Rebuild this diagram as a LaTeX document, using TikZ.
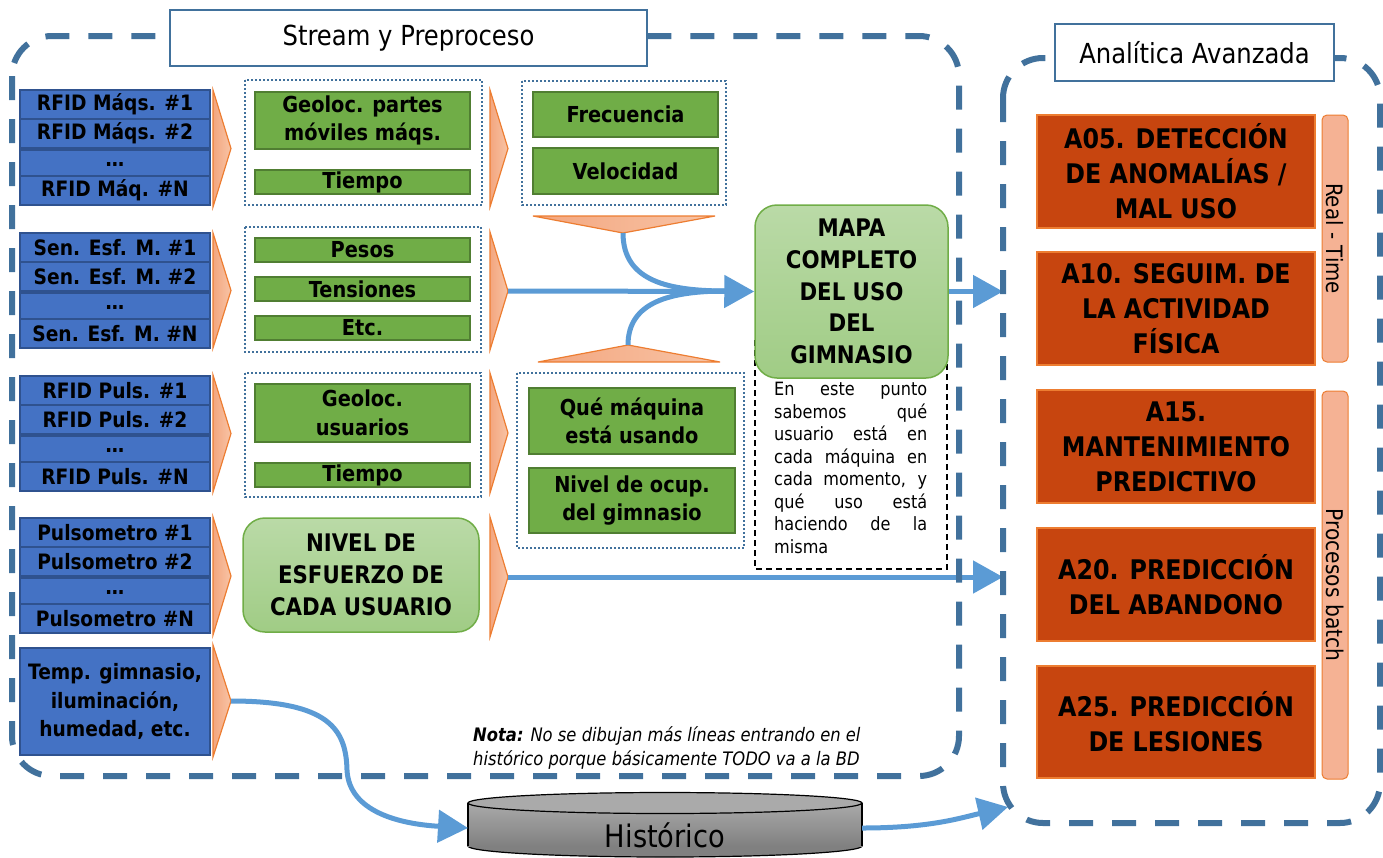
\documentclass[tikz,border=0pt]{standalone}
\usepackage{fontspec}
\setmainfont{DejaVu Sans}[FakeStretch=0.88]
\usetikzlibrary{arrows.meta}

\definecolor{frame}{HTML}{41719C}
\definecolor{sensorblue}{HTML}{4472C4}
\definecolor{sensoredge}{HTML}{2F528F}
\definecolor{leaf}{HTML}{70AD47}
\definecolor{leafedge}{HTML}{507E32}
\definecolor{mintA}{RGB}{186,218,167}
\definecolor{mintB}{RGB}{160,204,133}
\definecolor{chevA}{RGB}{243,166,127}
\definecolor{chevB}{RGB}{248,196,166}
\definecolor{chevedge}{HTML}{ED7D31}
\definecolor{flow}{HTML}{5B9BD5}
\definecolor{rust}{RGB}{199,69,15}
\definecolor{barfill}{RGB}{245,178,148}
\definecolor{dbA}{RGB}{170,170,170}
\definecolor{dbB}{RGB}{128,128,128}

\newcommand\sensorfont{\bfseries\fontsize{21.2}{24}\selectfont}
\newcommand\leaffont{\bfseries\fontsize{22}{28.5}\selectfont}
\newcommand\softfont{\bfseries\fontsize{24.2}{31.7}\selectfont}
\newcommand\taskfont{\bfseries\fontsize{27}{35}\selectfont}

% four stacked sensor rows: prefix, top y, first, second, last label
\newcommand\sensorrows[5]{%
  \node[sensor] (#1a) at (115,#2+14.375) {#3};
  \node[sensor] (#1b) at (115,#2+43.125) {#4};
  \node[sensor] (#1c) at (115,#2+74) {…};
  \node[sensor] (#1d) at (115,#2+100.625) {#5};}

% right-pointing chevron: left x, top y, bottom y
\newcommand\chevron[3]{%
  \path[chev] (#1,#2) -- (#1+18,{(#2+#3)/2}) -- (#1,#3) -- cycle;}

\begin{document}
\begin{tikzpicture}[x=1pt,y=-1pt,
  panel/.style={draw=frame, line width=6, dash pattern=on 24pt off 19pt, rounded corners=40},
  titlebox/.style={draw=frame, line width=2.5, fill=white, inner sep=0,
    font=\fontsize{27.6}{30}\selectfont},
  sensor/.style={draw=sensoredge, fill=sensorblue, line width=2, inner sep=0,
    minimum width=190, minimum height=28.75, font=\sensorfont},
  group/.style={draw=frame, line width=2, dash pattern=on 2pt off 2pt},
  leafbox/.style={draw=leafedge, fill=leaf, line width=2, inner sep=0, align=center,
    font=\leaffont},
  softbox/.style={draw=leaf, line width=1.5, rounded corners=22, top color=mintA,
    bottom color=mintB, inner sep=0, align=center, font=\softfont},
  chev/.style={left color=chevA, right color=chevB, draw=chevedge, line width=1.2},
  flowline/.style={draw=flow, line width=5},
  flowarrow/.style={flowline, -{Triangle[length=30pt,width=32pt]}},
  task/.style={fill=rust, draw=chevedge, line width=1.5, inner sep=0,
    minimum width=278, minimum height=113, align=center, font=\taskfont},
  modebar/.style={fill=barfill, draw=chevedge, line width=1, rounded corners=5},
  notebox/.style={draw=black, line width=1.5, dash pattern=on 6pt off 4pt}]

\useasboundingbox (0,0) rectangle (1383,857);

% panel outlines (placed now, stroked later so they cross over the flows)
\path (485.5,406) node[minimum width=947, minimum height=740, inner sep=0, outer sep=0] (stream) {};
\path (1191.5,440.5) node[minimum width=377, minimum height=765, inner sep=0, outer sep=0] (ana) {};

% ---------- sensor sources ----------
\sensorrows{rm}{90}{RFID Máqs. \#1}{RFID Máqs. \#2}{RFID Máq. \#N}
\sensorrows{se}{233}{Sen. Esf. M. \#1}{Sen. Esf. M. \#2}{Sen. Esf. M. \#N}
\sensorrows{rp}{376}{RFID Puls. \#1}{RFID Puls. \#2}{RFID Puls. \#N}
\sensorrows{pu}{518}{Pulsometro \#1}{Pulsometro \#2}{Pulsometro \#N}
\node[sensor, minimum height=107, align=center, font=\bfseries\fontsize{21.2}{28.5}\selectfont]
  (env) at (115,701.5) {Temp. gimnasio,\\iluminación,\\humedad, etc.};

\chevron{213}{90}{207}
\chevron{213}{233}{348}
\chevron{213}{375}{492}
\chevron{213}{517}{635}
\chevron{213}{645}{757}

% ---------- first preprocessing stage ----------
\draw[group] (245,80) rectangle (482,205);
\draw[group] (245,227) rectangle (481,352);
\draw[group] (245,373) rectangle (481,497);

\node[leafbox, minimum width=215, minimum height=57] (geomaq) at (362.5,120.5) {Geoloc. partes\\móviles máqs.};
\node[leafbox, minimum width=215, minimum height=24] (tmaq) at (362.5,182) {Tiempo};
\node[leafbox, minimum width=215, minimum height=24] (pesos) at (362.5,250) {Pesos};
\node[leafbox, minimum width=215, minimum height=24] (tens) at (362.5,289) {Tensiones};
\node[leafbox, minimum width=215, minimum height=24] (etc) at (362.5,328) {Etc.};
\node[leafbox, minimum width=215, minimum height=58] (geousr) at (362.5,413) {Geoloc.\\usuarios};
\node[leafbox, minimum width=215, minimum height=24] (tusr) at (362.5,475) {Tiempo};

\node[softbox, minimum width=236, minimum height=114] (esfuerzo) at (361,575) {NIVEL DE\\ESFUERZO DE\\CADA USUARIO};

\chevron{490}{90}{207}
\chevron{490}{232}{350}
\chevron{490}{373}{493}
\chevron{490}{517}{637}

% ---------- second preprocessing stage ----------
\draw[group] (522,81) rectangle (726,205);
\draw[group] (517,373) rectangle (744,548);

\node[leafbox, minimum width=185, minimum height=45] (frec) at (625.5,114.5) {Frecuencia};
\node[leafbox, minimum width=185, minimum height=46] (vel) at (625.5,171) {Velocidad};
\node[leafbox, minimum width=206, minimum height=66] (quemaq) at (632,421) {Qué máquina\\está usando};
\node[leafbox, minimum width=206, minimum height=65] (ocup) at (632,500.5) {Nivel de ocup.\\del gimnasio};

\path[chev] (533,216) -- (715,216) -- (623,233) -- cycle;
\path[chev] (538,362) -- (720,362) -- (628,345) -- cycle;

% ---------- complete usage map ----------
\draw[notebox] (755,340) rectangle (947,569);
\node[softbox, minimum width=193, minimum height=173] (mapa) at (851.5,291.5)
  {MAPA\\COMPLETO\\DEL USO\\DEL\\GIMNASIO};
\node[anchor=north west, inner sep=0, align=left, font=\fontsize{18.3}{22.5}\selectfont] (note) at (774,382)
  {\makebox[153pt][s]{En este punto}\\
   \makebox[153pt][s]{sabemos qué}\\
   \makebox[153pt][s]{usuario está en}\\
   \makebox[153pt][s]{cada máquina en}\\
   \makebox[153pt][s]{cada momento, y}\\
   \makebox[153pt][s]{qué uso está}\\
   \makebox[153pt][s]{haciendo de la}\\
   misma};

% ---------- historical store ----------
\begin{scope}
  \clip (460,846) rectangle (870,870);
  \filldraw[fill=dbB, draw=black, line width=1.2] (665,846) ellipse [x radius=197, y radius=11];
\end{scope}
\shade[top color=dbA, bottom color=dbB] (468,803) rectangle (862,846);
\draw[black, line width=1.2] (468,803) -- (468,846) (862,803) -- (862,846);
\filldraw[fill=dbA, draw=black, line width=1.2] (665,803) ellipse [x radius=197, y radius=10.5];
\node[minimum width=394, minimum height=50, inner sep=0, outer sep=0] (hist) at (665,828) {};
\node[font=\fontsize{31}{34}\selectfont] (histlabel) at (665,835) {Histórico};

\node[anchor=north west, inner sep=0, align=left, font=\itshape\fontsize{18.6}{24}\selectfont] (nota) at (473,726)
  {\textbf{Nota:} No se dibujan más líneas entrando en el\\histórico porque básicamente TODO va a la BD};

% ---------- flows ----------
\coordinate (s2) at (508,291);
\coordinate (s4) at (508,577);
\coordinate (s5) at (231,701);
\coordinate (tdown) at (623,233);
\coordinate (tup) at (628,345);
\coordinate (merge) at (727,291);
\coordinate (anaIn) at (1008,807);

\draw[flowline] (tdown) .. controls (623,282) and (670,291) .. (merge);
\draw[flowline] (tup) .. controls (628,302) and (670,291) .. (merge);
\draw[flowarrow] (s2) -- (mapa.west);
\draw[flowarrow] (mapa.east) -- (mapa.east -| ana.west);
\draw[flowarrow] (s4) -- (s4 -| ana.west);
\draw[flowarrow] (s5) .. controls (330,701) and (346,730) .. (347,770)
  .. controls (349,812) and (400,824) .. (hist.west);
\draw[flowarrow] (hist.east) .. controls (930,828) and (960,818) .. (anaIn);

% ---------- analytics ----------
\node[task, minimum height=113] (a05) at (1176,171.5) {A05. DETECCIÓN\\DE ANOMALÍAS /\\MAL USO};
\node[task, minimum height=113] (a10) at (1176,308.5) {A10. SEGUIM. DE\\LA ACTIVIDAD\\FÍSICA};
\node[task, minimum height=113] (a15) at (1176,446.5) {A15.\\MANTENIMIENTO\\PREDICTIVO};
\node[task, minimum height=113] (a20) at (1176,584.5) {A20. PREDICCIÓN\\DEL ABANDONO};
\node[task, minimum height=112] (a25) at (1176,722) {A25. PREDICCIÓN\\DE LESIONES};

\draw[modebar] (1322,115) rectangle (1348,362);
\draw[modebar] (1322,391) rectangle (1348,779);
\node[rotate=-90, font=\fontsize{22.5}{24}\selectfont] (rt) at (1335,238.5) {Real - Time};
\node[rotate=-90, font=\fontsize{23}{24}\selectfont] (pb) at (1335,585) {Procesos batch};

% ---------- panel frames and titles ----------
\draw[panel] (stream.north west) rectangle (stream.south east);
\draw[panel] (ana.north west) rectangle (ana.south east);
\node[titlebox, minimum width=477, minimum height=56] (streamtitle) at (408.5,38) {Stream y Preproceso};
\node[titlebox, minimum width=279, minimum height=57] (anatitle) at (1194.5,52.5) {Analítica Avanzada};

\end{tikzpicture}
\end{document}
